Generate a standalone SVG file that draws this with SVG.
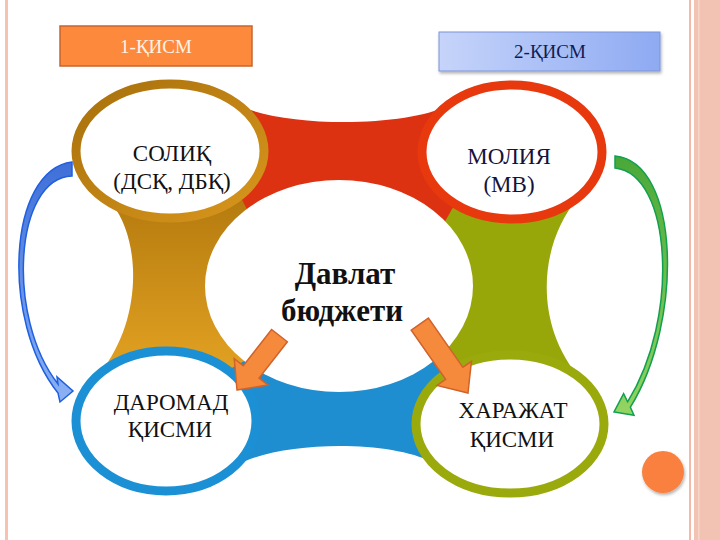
<svg xmlns="http://www.w3.org/2000/svg" width="720" height="540" viewBox="0 0 720 540">
<defs>
<linearGradient id="gGold" x1="0" y1="0" x2="0" y2="1"><stop offset="0" stop-color="#b47a0e"/><stop offset="1" stop-color="#e2a222"/></linearGradient>
<linearGradient id="gGoldRing" x1="0" y1="0" x2="1" y2="1"><stop offset="0" stop-color="#a8700c"/><stop offset="1" stop-color="#d8961c"/></linearGradient>
<linearGradient id="gBox2" x1="0" y1="0" x2="1" y2="0"><stop offset="0" stop-color="#c6d4fa"/><stop offset="1" stop-color="#8eaaf2"/></linearGradient>
<linearGradient id="gBlueArr" x1="0" y1="0" x2="0" y2="1"><stop offset="0" stop-color="#3f6fd8"/><stop offset="1" stop-color="#8cb2f4"/></linearGradient>
<linearGradient id="gGreenArr" x1="0" y1="0" x2="0" y2="1"><stop offset="0" stop-color="#4aa838"/><stop offset="1" stop-color="#94d462"/></linearGradient>
<filter id="sh" x="-20%" y="-20%" width="140%" height="150%"><feDropShadow dx="1" dy="2" stdDeviation="1.5" flood-color="#000" flood-opacity="0.3"/></filter>
</defs>
<style>
.t{font-family:"Liberation Serif","Times New Roman",serif;text-anchor:middle;fill:#111}
.n{font-size:23px}
.ring{fill:#fff;stroke-width:9}
.oarr{fill:#f5893c;stroke:#d0622a;stroke-width:1.5}
</style>
<rect width="720" height="540" fill="#fff"/>
<rect x="5" y="0" width="3" height="540" fill="#f9c2b0"/>
<rect x="689" y="0" width="2" height="540" fill="#f4b8a6"/>
<rect x="694" y="0" width="26" height="540" fill="#f2c3b3"/>
<rect x="698" y="0" width="1.5" height="540" fill="#f7d6c8"/>

<g id="boxes">
<g id="part1"><rect x="60" y="26" width="192" height="40" fill="#fd8a3c" stroke="#c8642e" stroke-width="1.5"/>
<text class="t" x="156" y="53" font-size="19" style="fill:#fff3e4">1-ҚИСМ</text></g>
<g id="part2"><rect x="439" y="32" width="221" height="39" fill="url(#gBox2)" stroke="#7d94d8" stroke-width="1" filter="url(#sh)"/>
<text class="t" x="550" y="58" font-size="19" style="fill:#141a52">2-ҚИСМ</text></g>
</g>

<g id="cycle">
<path d="M235,103 C275,128 408,128 448,105 L470,240 L340,250 L210,240 Z" fill="#dc3212"/>
<path d="M112,204 C141,240 143,320 100,373 L228,370 L310,330 L240,196 Z" fill="url(#gGold)"/>
<path d="M578,198 C538,245 534,325 580,378 L445,374 L400,300 L455,204 Z" fill="#97a70a"/>
<path d="M235,466 C280,440 390,440 432,462 L445,374 L400,320 L300,330 L228,370 Z" fill="#1e8ed0"/>
</g>

<g id="center">
<ellipse cx="339" cy="286" rx="134" ry="106" fill="#fff"/>
<text class="t" x="345" y="284" font-size="31" font-weight="bold">Давлат</text>
<text class="t" x="342" y="321" font-size="31" font-weight="bold">бюджети</text>
</g>

<g id="soliq">
<ellipse class="ring" cx="170" cy="151" rx="94" ry="67" stroke="url(#gGoldRing)"/>
<text class="t n" x="172" y="161">СОЛИҚ</text>
<text class="t n" x="172" y="189">(ДСҚ, ДБҚ)</text>
</g>
<g id="moliya">
<ellipse class="ring" cx="512" cy="152" rx="90" ry="67" stroke="#e8380e"/>
<text class="t n" x="509" y="164" style="fill:#16123a">МОЛИЯ</text>
<text class="t n" x="509" y="192" style="fill:#16123a">(МВ)</text>
</g>
<g id="daromad">
<ellipse class="ring" cx="166" cy="421" rx="90" ry="70" stroke="#1c90d4"/>
<text class="t n" x="171" y="410">ДАРОМАД</text>
<text class="t n" x="170" y="437">ҚИСМИ</text>
</g>
<g id="xarajat">
<ellipse class="ring" cx="510" cy="424" rx="94" ry="69" stroke="#9aaa0c"/>
<text class="t n" x="513" y="418">ХАРАЖАТ</text>
<text class="t n" x="512" y="447">ҚИСМИ</text>
</g>

<g id="connectors">
<path d="M72,162 C8,170 0,320 58,393 L60,402 L73,391 L57,377 L58,384 C6,318 14,178 72,176 Z" fill="url(#gBlueArr)" stroke="#1f5fe0" stroke-width="1.5"/>
<path d="M615,156 C680,162 684,320 630.4,407.2 L634,415.3 L614,412 L623.6,393.7 L627.6,401.8 C680,318 672,174 615,168 Z" fill="url(#gGreenArr)" stroke="#10a050" stroke-width="1.5"/>
<polygon class="oarr" points="0,0 -23,-21.5 -23,-10 -69,-10 -69,10 -23,10 -23,21.5" transform="translate(237,390) rotate(128)"/>
<polygon class="oarr" points="0,0 -24,-21 -24,-10.5 -84,-10.5 -84,10.5 -24,10.5 -24,21" transform="translate(468,393) rotate(55)"/>
</g>

<circle id="dot" cx="663" cy="472" r="21" fill="#fa8040" filter="url(#sh)"/>
</svg>
